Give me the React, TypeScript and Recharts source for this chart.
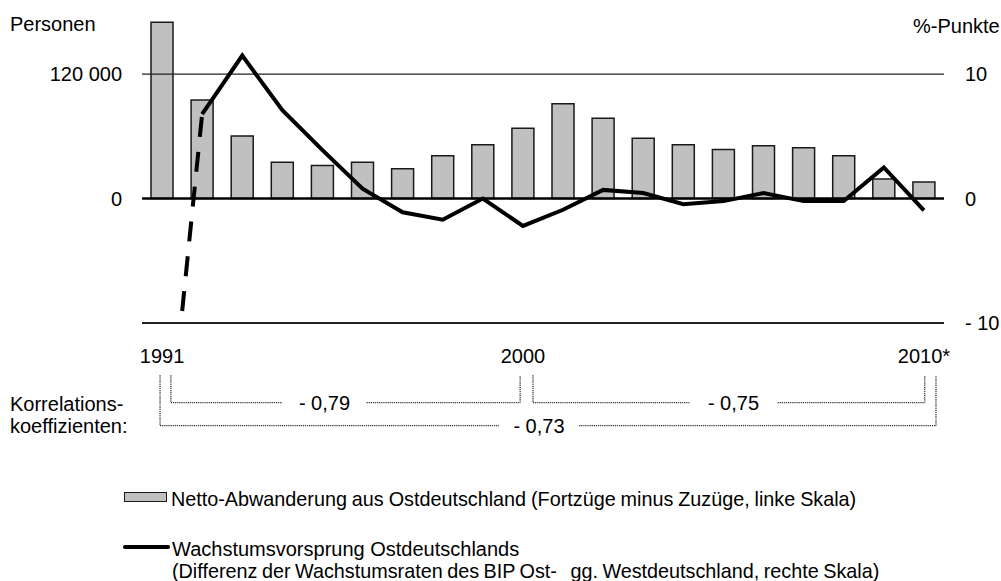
import React from "react";
import { ComposedChart, Bar, Line, XAxis, YAxis, ReferenceLine, ReferenceDot } from "recharts";

// Netto-Abwanderung (Personen) und Wachstumsvorsprung (%-Punkte), 1991-2010
const years = [1991, 1992, 1993, 1994, 1995, 1996, 1997, 1998, 1999, 2000, 2001, 2002, 2003, 2004, 2005, 2006, 2007, 2008, 2009, 2010];
const netMigration = [170000, 95000, 60500, 35000, 32000, 35000, 28800, 41300, 52000, 67900, 91500, 77500, 58300, 52000, 47300, 50900, 49000, 41300, 18900, 16000];
const growthGap = [-25, 6.8, 11.5, 7.1, 3.9, 0.8, -1.1, -1.7, 0, -2.2, -0.9, 0.7, 0.45, -0.45, -0.2, 0.45, -0.2, -0.2, 2.5, -0.95];

const xTicks = [1991, 2000, 2010];
const xTickLabels = ["1991", "2000", "2010*"];
const leftTicks = [0, 120000];
const leftTickLabels = ["0", "120 000"];
const rightTicks = [-10, 0, 10];
const rightTickLabels = ["- 10", "0", "10"];

const corrLabels = ["- 0,79", "- 0,75", "- 0,73"];
const corrFrom = [1991, 2000, 1991];
const corrTo = [2000, 2010, 2010];

const data = years.map((year, i) => ({
  year,
  migration: netMigration[i],
  gapSolid: i >= 1 ? growthGap[i] : null,
  gapDashed: i <= 1 ? growthGap[i] : null,
}));

// bracket layout (in axis units, below the plot)
const bracketTop = -14.2;
const rowLevel = [-16.4, -16.4, -18.25];
const padFrom = [0.22, 0.25, -0.05];
const padTo = [-0.07, 0.02, 0.3];
const labelAt = [1995.05, 2005.25, 2000.4];
const labelGap = [1.05, 1.1, 1.0];

const FONT = "'Liberation Sans', Arial, sans-serif";
const dotted = { stroke: "#333", strokeWidth: 1.3, strokeDasharray: "1.2 0.9" };

const fmt = (ticks: number[], labels: string[]) => (v: number) => {
  const i = ticks.indexOf(v);
  return i >= 0 ? labels[i] : "";
};

const text = (left: number, top: number, s: string, extra: React.CSSProperties = {}) => (
  <div style={{ position: "absolute", left, top, fontSize: 20, lineHeight: "20px", whiteSpace: "pre", color: "#000", ...extra }}>{s}</div>
);

export default function App() {
  return (
    <div style={{ position: "absolute", left: 0, top: 0, width: 1001, height: 581, background: "#fff", fontFamily: FONT, overflow: "hidden" }}>
      <ComposedChart width={1001} height={581} data={data} margin={{ top: 12, right: 0, bottom: 0, left: 0 }}>
        <XAxis
          dataKey="year"
          type="number"
          domain={[1990.5, 2010.5]}
          ticks={xTicks}
          tickFormatter={fmt(xTicks, xTickLabels)}
          axisLine={false}
          tickLine={false}
          tickSize={0}
          tickMargin={26}
          height={258}
          tick={{ fill: "#000", fontSize: 20 }}
          allowDataOverflow
        />
        <YAxis
          yAxisId="left"
          orientation="left"
          width={142}
          domain={[-120000, 180000]}
          ticks={leftTicks}
          tickFormatter={fmt(leftTicks, leftTickLabels)}
          axisLine={false}
          tickLine={false}
          tickSize={0}
          tickMargin={20}
          tick={{ fill: "#000", fontSize: 20 }}
          allowDataOverflow
        />
        <YAxis
          yAxisId="right"
          orientation="right"
          width={57}
          domain={[-10, 15]}
          ticks={rightTicks}
          tickFormatter={fmt(rightTicks, rightTickLabels)}
          axisLine={false}
          tickLine={false}
          tickSize={0}
          tickMargin={21}
          tick={{ fill: "#000", fontSize: 20, textAnchor: "start" }}
          allowDataOverflow
        />
        <Bar yAxisId="left" dataKey="migration" barSize={22} fill="#c0c0c0" stroke="#1a1a1a" strokeWidth={1.5} isAnimationActive={false} />
        <ReferenceLine yAxisId="left" y={120000} stroke="#222" strokeWidth={1.3} />
        <ReferenceLine yAxisId="left" y={0} stroke="#000" strokeWidth={2.5} />
        <ReferenceLine yAxisId="left" y={-120000} stroke="#222" strokeWidth={2} />
        <Line yAxisId="right" dataKey="gapDashed" stroke="#000" strokeWidth={4} strokeDasharray="20 15" strokeDashoffset={10.4} dot={false} activeDot={false} isAnimationActive={false} />
        <Line yAxisId="right" dataKey="gapSolid" stroke="#000" strokeWidth={4} dot={false} activeDot={false} isAnimationActive={false} />
        {corrLabels.map((label, i) => {
          const x0 = corrFrom[i] + padFrom[i];
          const x1 = corrTo[i] + padTo[i];
          const lv = rowLevel[i];
          return (
            <React.Fragment key={label}>
              <ReferenceLine yAxisId="right" ifOverflow="visible" segment={[{ x: x0, y: bracketTop }, { x: x0, y: lv }]} {...dotted} />
              <ReferenceLine yAxisId="right" ifOverflow="visible" segment={[{ x: x0, y: lv }, { x: labelAt[i] - labelGap[i], y: lv }]} {...dotted} />
              <ReferenceLine yAxisId="right" ifOverflow="visible" segment={[{ x: labelAt[i] + labelGap[i], y: lv }, { x: x1, y: lv }]} {...dotted} />
              <ReferenceLine yAxisId="right" ifOverflow="visible" segment={[{ x: x1, y: lv }, { x: x1, y: bracketTop }]} {...dotted} />
              <ReferenceDot
                yAxisId="right"
                ifOverflow="visible"
                x={labelAt[i]}
                y={lv}
                r={0}
                fill="none"
                stroke="none"
                label={{ value: label, position: "center", fill: "#000", fontSize: 20 }}
              />
            </React.Fragment>
          );
        })}
      </ComposedChart>

      {text(10, 14, "Personen")}
      {text(913, 16, "%-Punkte")}
      {text(10, 394, "Korrelations-")}
      {text(10, 416, "koeffizienten:")}

      <div style={{ position: "absolute", left: 124, top: 492, width: 41, height: 8, background: "#c0c0c0", border: "1.5px solid #1a1a1a" }} />
      {text(171, 489, "Netto-Abwanderung aus Ostdeutschland (Fortzüge minus Zuzüge, linke Skala)", { fontSize: 19.8, wordSpacing: -0.6 })}
      <div style={{ position: "absolute", left: 123, top: 545, width: 47, height: 4, background: "#000", borderRadius: 2 }} />
      {text(172, 539, "Wachstumsvorsprung Ostdeutschlands")}
      {text(172, 561, "(Differenz der Wachstumsraten des BIP Ost-   gg. Westdeutschland, rechte Skala)", { fontSize: 19.8, wordSpacing: -1 })}
    </div>
  );
}
